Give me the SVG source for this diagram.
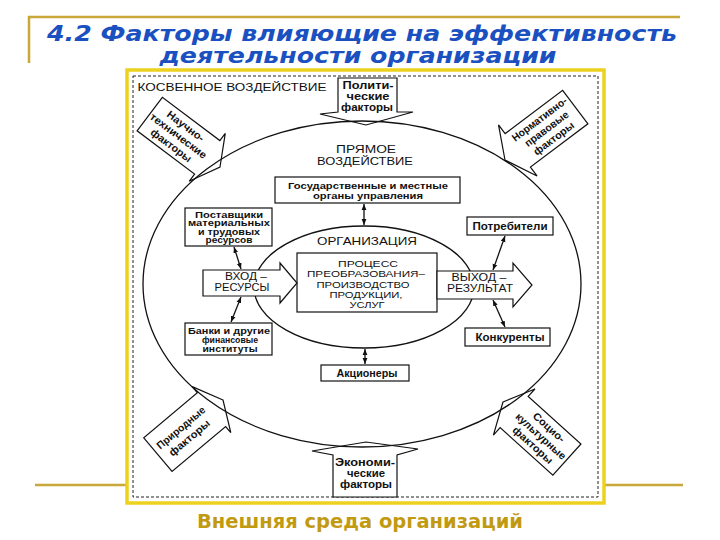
<svg xmlns="http://www.w3.org/2000/svg" width="720" height="540" viewBox="0 0 720 540">
<defs>
<style>
.ln{fill:none;stroke:#111;stroke-width:1.3}
.bx{fill:#fff;stroke:#111;stroke-width:1.2}
.t{font-family:"Liberation Sans",Arial,sans-serif;fill:#111;text-anchor:middle}
.s{font-size:10px;font-weight:bold}
.xs{font-size:8.6px;font-weight:bold}
.m{font-size:11.5px}
.p{font-size:10.5px}
.q{font-size:9.6px}
.f{font-size:10.5px;font-weight:bold}
.tpl{stroke:#c9a83a;stroke-width:2.5;fill:none}
.con{fill:none;stroke:#111;stroke-width:1.3;marker-start:url(#ah);marker-end:url(#ah)}
</style>
<marker id="ah" viewBox="0 0 10 10" refX="10" refY="5" markerWidth="6" markerHeight="6" markerUnits="userSpaceOnUse" orient="auto-start-reverse"><path d="M0,1 L10,5 L0,9 z" fill="#111"/></marker>
</defs>
<rect width="720" height="540" fill="#fff"/>
<g id="template">
<path class="tpl" d="M29,63 V17 H680"/>
<path class="tpl" d="M35,485 H127 M605,485 H683"/>
</g>
<g id="title" font-family="DejaVu Sans,Verdana,sans-serif" font-weight="bold" font-style="italic" font-size="21" fill="#1a50c0" text-anchor="middle">
<text x="362" y="41" textLength="630" lengthAdjust="spacingAndGlyphs">4.2 Факторы влияющие на эффективность</text>
<text x="358" y="63" textLength="397" lengthAdjust="spacingAndGlyphs">деятельности организации</text>
</g>
<g id="frame">
<rect x="127" y="70" width="477" height="433" fill="#fff" stroke="#ecd21e" stroke-width="3.5"/>
<rect x="133" y="76" width="465" height="421" fill="none" stroke="#222" stroke-width="1" stroke-dasharray="3 2"/>
</g>
<g id="indirect-label"><text class="t m" x="232" y="91" textLength="189" lengthAdjust="spacingAndGlyphs">КОСВЕННОЕ ВОЗДЕЙСТВИЕ</text></g>

<g id="political">
<polygon class="bx" points="338,78 397,78 397,112 413,112 366,125 320,114 338,112"/>
<text class="t f" x="368" y="89" textLength="51" lengthAdjust="spacingAndGlyphs">Полити-</text>
<text class="t f" x="368" y="100" textLength="43" lengthAdjust="spacingAndGlyphs">ческие</text>
<text class="t f" x="367" y="111" textLength="52" lengthAdjust="spacingAndGlyphs">факторы</text>
</g>
<g id="economic">
<polygon class="bx" points="333,497 333,455 312,451 366,442 418,449 397,455 397,497"/>
<text class="t f" x="365" y="466" textLength="60" lengthAdjust="spacingAndGlyphs">Экономи-</text>
<text class="t f" x="366" y="477" textLength="38" lengthAdjust="spacingAndGlyphs">ческие</text>
<text class="t f" x="366" y="488" textLength="52" lengthAdjust="spacingAndGlyphs">факторы</text>
</g>
<g id="scitech" transform="translate(220,167) rotate(37)">
<polygon class="bx" points="0,0 -16,-30 -16,-21 -88,-21 -88,21 -16,21 -16,30"/>
<text class="t f" x="-52" y="-8.3" textLength="44" lengthAdjust="spacingAndGlyphs">Научно-</text>
<text class="t f" x="-52" y="3.7" textLength="68" lengthAdjust="spacingAndGlyphs">технические</text>
<text class="t f" x="-52" y="15.7" textLength="48" lengthAdjust="spacingAndGlyphs">факторы</text>
</g>
<g id="legal" transform="translate(505,160) rotate(-37)">
<polygon class="bx" points="0,0 16,-32 16,-21 88,-21 88,21 16,21 16,32"/>
<text class="t f" x="52" y="-8.3" textLength="66" lengthAdjust="spacingAndGlyphs">Нормативно-</text>
<text class="t f" x="52" y="3.7" textLength="52" lengthAdjust="spacingAndGlyphs">правовые</text>
<text class="t f" x="52" y="15.7" textLength="48" lengthAdjust="spacingAndGlyphs">факторы</text>
</g>
<g id="natural" transform="translate(223,400) rotate(-40)">
<polygon class="bx" points="0,0 -15,-30 -15,-22 -85,-22 -85,22 -15,22 -15,30"/>
<text class="t f" x="-50" y="-2.3" textLength="60" lengthAdjust="spacingAndGlyphs">Природные</text>
<text class="t f" x="-50" y="11" textLength="50" lengthAdjust="spacingAndGlyphs">факторы</text>
</g>
<g id="sociocultural" transform="translate(503,402) rotate(42)">
<polygon class="bx" points="0,0 15,-31 15,-21 86,-21 86,21 15,21 15,31"/>
<text class="t f" x="51" y="-8.3" textLength="39" lengthAdjust="spacingAndGlyphs">Социо-</text>
<text class="t f" x="51" y="3.7" textLength="64" lengthAdjust="spacingAndGlyphs">культурные</text>
<text class="t f" x="51" y="15.7" textLength="50" lengthAdjust="spacingAndGlyphs">факторы</text>
</g>

<g id="direct-env">
<ellipse class="ln" cx="362" cy="284" rx="219" ry="163"/>
<text class="t m" x="366" y="153" textLength="60" lengthAdjust="spacingAndGlyphs">ПРЯМОЕ</text>
<text class="t m" x="365" y="165" textLength="96" lengthAdjust="spacingAndGlyphs">ВОЗДЕЙСТВИЕ</text>
</g>
<g id="government">
<rect class="bx" x="275" y="177" width="185" height="26"/>
<text class="t xs" x="368" y="188.5" textLength="160" lengthAdjust="spacingAndGlyphs">Государственные и местные</text>
<text class="t xs" x="368" y="199" textLength="110" lengthAdjust="spacingAndGlyphs">органы управления</text>
</g>
<g id="organization">
<ellipse class="ln" cx="364" cy="287" rx="110" ry="61"/>
<text class="t m" x="367" y="245" textLength="100" lengthAdjust="spacingAndGlyphs">ОРГАНИЗАЦИЯ</text>
</g>
<g id="process">
<rect class="bx" x="297" y="253" width="140" height="59"/>
<text class="t q" x="368" y="266.5" textLength="60" lengthAdjust="spacingAndGlyphs">ПРОЦЕСС</text>
<text class="t q" x="366" y="277" textLength="118" lengthAdjust="spacingAndGlyphs">ПРЕОБРАЗОВАНИЯ–</text>
<text class="t q" x="363" y="287.5" textLength="93" lengthAdjust="spacingAndGlyphs">ПРОИЗВОДСТВО</text>
<text class="t q" x="366" y="297.8" textLength="73" lengthAdjust="spacingAndGlyphs">ПРОДУКЦИИ,</text>
<text class="t q" x="367" y="308" textLength="35" lengthAdjust="spacingAndGlyphs">УСЛУГ</text>
</g>
<g id="input">
<polygon class="bx" points="203,270 280,270 280,263 297,283 280,303 280,296 203,296"/>
<text class="t p" x="246" y="280" textLength="42" lengthAdjust="spacingAndGlyphs">ВХОД –</text>
<text class="t p" x="242" y="291" textLength="55" lengthAdjust="spacingAndGlyphs">РЕСУРСЫ</text>
</g>
<g id="output">
<polygon class="bx" points="437,271 513,271 513,263 532,285 513,307 513,299 437,299"/>
<text class="t p" x="479" y="281" textLength="55" lengthAdjust="spacingAndGlyphs">ВЫХОД –</text>
<text class="t p" x="480" y="292" textLength="66" lengthAdjust="spacingAndGlyphs">РЕЗУЛЬТАТ</text>
</g>
<g id="suppliers">
<rect class="bx" x="185" y="208" width="87" height="38"/>
<text class="t xs" x="229" y="217.5" textLength="68" lengthAdjust="spacingAndGlyphs">Поставщики</text>
<text class="t xs" x="229" y="226" textLength="82" lengthAdjust="spacingAndGlyphs">материальных</text>
<text class="t xs" x="229" y="234.5" textLength="62" lengthAdjust="spacingAndGlyphs">и трудовых</text>
<text class="t xs" x="229" y="243" textLength="47" lengthAdjust="spacingAndGlyphs">ресурсов</text>
</g>
<g id="banks">
<rect class="bx" x="185" y="323" width="87" height="32"/>
<text class="t xs" x="229" y="333.5" textLength="82" lengthAdjust="spacingAndGlyphs">Банки и другие</text>
<text class="t xs" x="230" y="342.5" textLength="56" lengthAdjust="spacingAndGlyphs">финансовые</text>
<text class="t xs" x="230" y="351.5" textLength="55" lengthAdjust="spacingAndGlyphs">институты</text>
</g>
<g id="consumers">
<rect class="bx" x="467" y="217" width="86" height="18"/>
<text class="t s" x="510" y="229.5" textLength="75" lengthAdjust="spacingAndGlyphs">Потребители</text>
</g>
<g id="competitors">
<rect class="bx" x="465" y="328" width="85" height="18"/>
<text class="t s" x="510" y="340.5" textLength="69" lengthAdjust="spacingAndGlyphs">Конкуренты</text>
</g>
<g id="shareholders">
<rect class="bx" x="321" y="365" width="88" height="16"/>
<text class="t s" x="367" y="377" textLength="61" lengthAdjust="spacingAndGlyphs">Акционеры</text>
</g>
<g id="connectors">
<line class="con" x1="364" y1="204" x2="364" y2="225"/>
<line class="con" x1="234" y1="247" x2="241" y2="269"/>
<line class="con" x1="241" y1="297" x2="231" y2="322"/>
<line class="con" x1="505" y1="236" x2="493" y2="270"/>
<line class="con" x1="493" y1="300" x2="505" y2="327"/>
<line class="con" x1="365" y1="349" x2="365" y2="364"/>
</g>
<g id="footer"><text x="360" y="528" font-family="DejaVu Sans,Verdana,sans-serif" font-weight="bold" font-size="19" fill="#c29a12" text-anchor="middle" textLength="326" lengthAdjust="spacingAndGlyphs">Внешняя среда организаций</text></g>
</svg>
